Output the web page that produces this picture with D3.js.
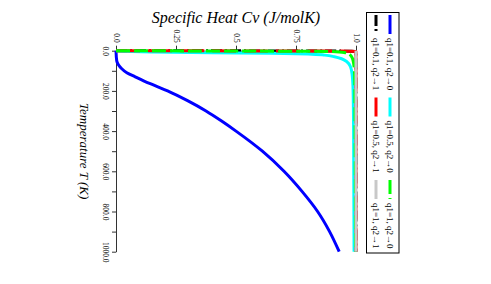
<!DOCTYPE html>
<html><head><meta charset="utf-8">
<script src="https://cdn.jsdelivr.net/npm/d3@7"></script>
<style>body{margin:0;background:#fff}svg{display:block}</style>
</head><body>
<svg id="c" width="491" height="284"></svg>
<script>
// ---- data ----
const tempTicks = [0,100,200,300,400,500,600,700,800,900,1000];
const cvTicks = [0,0.25,0.5,0.75,1.0];
const cvTickLabels = ["0.0","0.25","0.5","0.75","1.0"];

const seriesNames = ["q1=0.1, q2\u21920","q1=0.1, q2\u21921","q1=0.5, q2\u21920","q1=0.5, q2\u21921","q1=1, q2\u21920","q1=1, q2\u21921"];

const tBlue  = [0,50,70,90,110,130,150,175,200,250,300,350,400,500,600,700,800,900,1000];
const cvBlue = [0,0.003,0.01,0.024,0.045,0.08,0.115,0.165,0.215,0.3,0.375,0.44,0.5,0.61,0.7,0.775,0.84,0.89,0.93];

const tBlack  = [0,1,2,4,1000];
const cvBlack = [0,0.6,0.95,1,1];

const tCyan  = [0,6,10,13,16,22,30,40,55,80,120,200,400,1000];
const cvCyan = [0,0.15,0.4,0.65,0.8,0.87,0.91,0.94,0.962,0.977,0.984,0.988,0.99,0.992];

const tRed  = [0,1,2,4,1000];
const cvRed = [0,0.55,0.93,1,1];

const tGreen  = [0,1,2,3,4,6,10,16,24,35,50,80,150,1000];
const cvGreen = [0,0.3,0.6,0.8,0.88,0.93,0.955,0.97,0.978,0.984,0.988,0.992,0.995,0.998];

const tGray  = [0,1000];
const cvGray = [1,1];

// ---- drawing ----
const svg = d3.select("#c");
const FONT = "'Liberation Serif','Times New Roman',serif";
const x = d3.scaleLinear().domain([0,1]).range([116,356]);
const y = d3.scaleLinear().domain([0,1000]).range([50.7,251.7]);

svg.append("rect").attr("width",491).attr("height",284).attr("fill","#fff");

// Cv axis (top)
const gx = svg.append("g").attr("transform",`translate(0,${y(0)})`)
  .call(d3.axisTop(x).tickValues(cvTicks).tickSize(5).tickSizeOuter(0)
    .tickFormat((d,i)=>cvTickLabels[i]));
gx.selectAll("text").attr("x",0).attr("y",0).attr("dy",0)
  .attr("text-anchor","end").attr("transform","translate(-2.7,-8) rotate(90)")
  .style("font-family",FONT).style("font-size","7.5px").attr("fill","#000");

// T axis (left)
const gy = svg.append("g").attr("transform",`translate(${x(0)},0)`)
  .call(d3.axisLeft(y).tickValues(tempTicks).tickSize(4).tickSizeOuter(0)
    .tickFormat(d => d%200===0 ? d.toFixed(1) : ""));
gy.selectAll("text").attr("x",0).attr("y",0).attr("dy",0)
  .attr("text-anchor","middle").attr("transform","translate(-13.5,0) rotate(90)")
  .style("font-family",FONT).style("font-size","7.5px").attr("fill","#000");
gy.selectAll("path,line").attr("stroke","#333");
gx.selectAll("path,line").attr("stroke","#333");

// series
const series = [
  {t:tBlue, c:cvBlue, color:"#0000ff", dash:null},
  {t:tBlack,c:cvBlack,color:"#000000", dash:"11,3,2,3"},
  {t:tCyan, c:cvCyan, color:"#00ffff", dash:null},
  {t:tRed,  c:cvRed,  color:"#ff0000", dash:"24,8"},
  {t:tGreen,c:cvGreen,color:"#00ff00", dash:"14,4"},
  {t:tGray, c:cvGray, color:"#c8c8c8", dash:null}
];
const line = d3.line().x(d=>x(d[1])).y(d=>y(d[0])).curve(d3.curveMonotoneY);
series.forEach(s=>{
  svg.append("path").datum(s.t.map((tv,i)=>[tv,s.c[i]]))
    .attr("d",line).attr("fill","none").attr("stroke",s.color)
    .attr("stroke-width",3).attr("stroke-dasharray",s.dash);
});

// titles
svg.append("text").attr("x",236).attr("y",23).attr("text-anchor","middle")
  .style("font-family",FONT).style("font-style","italic").style("font-size","16px")
  .text("Specific Heat Cv (J/molK)");
svg.append("text").attr("text-anchor","middle")
  .attr("transform",`translate(80,${(y(0)+y(1000))/2}) rotate(90)`)
  .style("font-family",FONT).style("font-style","italic").style("font-size","13px")
  .text("Temperature T (K)");

// legend
svg.append("rect").attr("x",366.5).attr("y",12.5).attr("width",32.5).attr("height",240.5)
  .attr("fill","#fff").attr("stroke","#000").attr("stroke-width",1);
const colX = [390,376];
const rowY = [15,97.5,180];
series.forEach((s,i)=>{
  const cx = colX[i%2], ry = rowY[Math.floor(i/2)];
  svg.append("line").attr("x1",cx).attr("x2",cx).attr("y1",ry).attr("y2",ry+19)
    .attr("stroke",s.color).attr("stroke-width",3).attr("stroke-dasharray",s.dash);
  svg.append("text").attr("text-anchor","start")
    .attr("transform",`translate(${cx-3},${ry+23}) rotate(90)`)
    .style("font-family",FONT).style("font-size","9px").text(seriesNames[i]);
});
</script>
</body></html>
